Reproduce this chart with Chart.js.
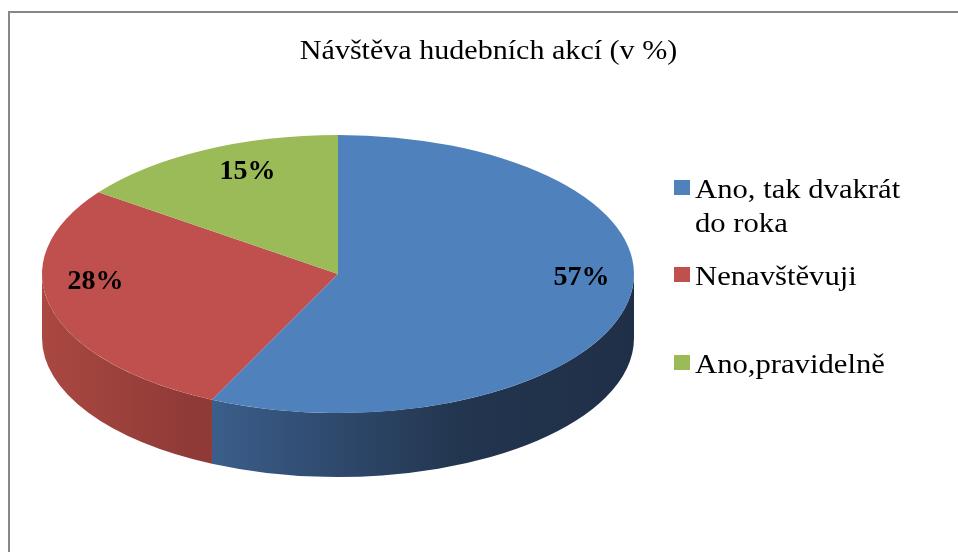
<!DOCTYPE html>
<html>
<head>
<meta charset="utf-8">
<script src="https://cdn.jsdelivr.net/npm/chart.js@4"></script>
<style>
  html, body { margin: 0; padding: 0; background: #fff; overflow: hidden; }
  #wrap { position: relative; width: 958px; height: 552px; }
  #frame { position: absolute; left: 8px; top: 11px; width: 1000px; height: 600px;
           border-left: 2px solid #878787; border-top: 2px solid #878787; }
  #chart { position: absolute; left: 0; top: 0; }
  #title { position: absolute; left: 0; width: 977px; top: 36px; text-align: center;
           font: 28px 'Liberation Serif', 'Times New Roman', serif; line-height: 28px; color: #000;
           transform: scaleX(1.074); transform-origin: 488px 0; }
  .leg { position: absolute; left: 674px; font: 28px 'Liberation Serif', 'Times New Roman', serif;
         line-height: 34px; color: #000; }
  .leg i { position: absolute; left: 0; top: 8px; width: 16px; height: 15px; }
  .leg span { display: block; margin-left: 21px; width: 210px;
              transform: scaleX(1.095); transform-origin: 0 0; }
</style>
</head>
<body>
<div id="wrap">
  <div id="frame"></div>
  <canvas id="chart" width="958" height="552"></canvas>
  <div id="title"></div>
  <div id="legend"></div>
</div>
<script>
// ===== data =====
const chartTitle = 'Návštěva hudebních akcí (v %)';
const categories = ['Ano, tak dvakrát do roka', 'Nenavštěvuji', 'Ano,pravidelně'];
const values = [57, 28, 15];
const topColors = ['#4f81bd', '#c0504d', '#9bbb59'];

// ellipse look of the 3D pie
const RX = 296;      // horizontal radius on screen
const DEPTH = 64;    // side height

document.getElementById('title').textContent = chartTitle;

// legend (html so the first label can wrap like the original)
const legendTops = [172, 259, 347];
document.getElementById('legend').innerHTML = categories.map((c, i) => `
  <div class="leg" style="top:${legendTops[i]}px"><i style="background:${topColors[i]}"></i><span>${c}</span></div>
`).join('');

function sideGradient(ctx, cx, r, i) {
  const g = ctx.createLinearGradient(cx - r, 0, cx + r, 0);
  if (i === 0) {
    g.addColorStop(0, '#43699c');
    g.addColorStop(0.255, '#3d618f');
    g.addColorStop(0.49, '#2f4a6e');
    g.addColorStop(0.7, '#23364f');
    g.addColorStop(1, '#1f2f47');
  } else {
    g.addColorStop(0, '#aa4841');
    g.addColorStop(0.255, '#8f3a37');
    g.addColorStop(1, '#8f3a37');
  }
  return g;
}

const pie3d = {
  id: 'pie3d',
  beforeDatasetsDraw(chart) {
    const ctx = chart.ctx;
    const arcs = chart.getDatasetMeta(0).data;
    const { x: cx, y: cy, outerRadius: r } = arcs[0];
    ctx.save();
    ctx.translate(cx, cy); ctx.scale(RX / r, 1); ctx.translate(-cx, -cy);
    // front side of the cylinder (visible between 0 and PI)
    arcs.forEach((arc, i) => {
      const a1 = Math.max(arc.startAngle, 0), a2 = Math.min(arc.endAngle, Math.PI);
      if (a2 <= a1) return;
      ctx.beginPath();
      ctx.arc(cx, cy, r, a1, a2);
      ctx.arc(cx, cy + DEPTH, r, a2, a1, true);
      ctx.closePath();
      ctx.fillStyle = sideGradient(ctx, cx, r, i);
      ctx.fill();
    });
  },
  afterDatasetsDraw(chart) {
    const ctx = chart.ctx;
    ctx.restore();
    const arcs = chart.getDatasetMeta(0).data;
    const { x: cx, y: cy } = arcs[0];
    // rough perspective for the label spots
    const A = 136, B = 0.151, apexY = cy - 21;
    ctx.save();
    ctx.font = 'bold 28px "Liberation Serif", "Times New Roman", serif';
    ctx.fillStyle = '#000';
    ctx.textAlign = 'center';
    ctx.textBaseline = 'middle';
    arcs.forEach((arc, i) => {
      const mid = (arc.startAngle + arc.endAngle) / 2;
      const rho = Math.sin(mid) < 0 ? 0.74 : 0.82;
      const u = rho * Math.cos(mid), v = rho * Math.sin(mid);
      const k = 1 - B * v;
      ctx.fillText(values[i] + '%', cx + RX * u / k, apexY + A * v / k);
    });
    ctx.restore();
  }
};

new Chart(document.getElementById('chart'), {
  type: 'pie',
  data: {
    labels: categories,
    datasets: [{ data: values, backgroundColor: topColors, borderWidth: 0, hoverOffset: 0, clip: false }]
  },
  options: {
    responsive: false,
    animation: false,
    events: [],
    layout: { padding: { left: 199, right: 481, top: 135, bottom: 139 } },
    plugins: { legend: { display: false }, tooltip: { enabled: false }, title: { display: false } }
  },
  plugins: [pie3d]
});
</script>
</body>
</html>
